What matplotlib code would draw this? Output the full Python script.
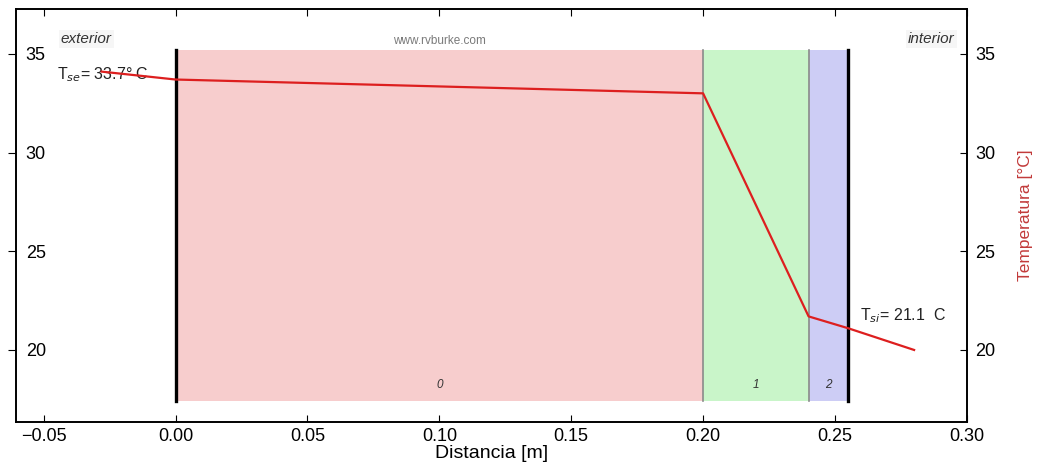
import numpy as np
import matplotlib.pyplot as plt

plt.rcParams['font.family'] = ['Liberation Sans', 'DejaVu Sans']

# capas del muro: limites [m] y colores
capa_ini = [0.00, 0.20, 0.24]
capa_fin = [0.20, 0.24, 0.255]
capa_nom = ['0', '1', '2']
capa_col = ['#f7cdcd', '#c9f5c9', '#cdcdf5']

# perfil de temperatura
dist = [-0.028, 0.0, 0.20, 0.24, 0.255, 0.28]
temp = [34.1, 33.7, 33.0, 21.7, 21.1, 20.0]

T_se = 33.7
T_si = 21.1

y_lo, y_hi = 17.4, 35.2

fig = plt.figure(figsize=(10.43, 4.66), dpi=100)
ax = fig.add_axes([0.0153, 0.0944, 0.9117, 0.8866])

for x0, x1, nom, col in zip(capa_ini, capa_fin, capa_nom, capa_col):
    ax.fill_between([x0, x1], y_lo, y_hi, color=col, lw=0, zorder=1)
    ax.text((x0 + x1) / 2, 18.2, nom, style='italic', fontsize=8.5,
            ha='center', va='center', color='#333333', zorder=3)

# separaciones entre capas
for x in capa_fin[:-1]:
    ax.plot([x, x], [y_lo, y_hi], color='#8a8a8a', lw=1.2, zorder=2)
# superficies exterior e interior
ax.plot([capa_ini[0]] * 2, [y_lo, y_hi], color='black', lw=2.4, zorder=4)
ax.plot([capa_fin[-1]] * 2, [y_lo, y_hi], color='black', lw=2.4, zorder=4)

ax.plot(dist, temp, color='#dd1f1f', lw=1.6, zorder=5)

ax.text(-0.045, 33.95, 'T$_{se}$= %.1f° C' % T_se, fontsize=11.5,
        ha='left', va='center', color='#222222', zorder=4)
ax.text(0.2595, 21.75, 'T$_{si}$= %.1f  C' % T_si, fontsize=11.5,
        ha='left', va='center', color='#222222', zorder=4)

ax.text(-0.0435, 35.75, 'exterior', style='italic', fontsize=11,
        ha='left', va='center', color='#333333',
        bbox=dict(fc='#f6f6f6', ec='none', pad=1.5))
ax.text(0.2955, 35.75, 'interior', style='italic', fontsize=11,
        ha='right', va='center', color='#333333',
        bbox=dict(fc='#f6f6f6', ec='none', pad=1.5))
ax.text(0.1, 35.65, 'www.rvburke.com', fontsize=8.5, ha='center',
        va='center', color='#7a7a7a')

ax.set_xlim(-0.0605, 0.2995)
ax.set_ylim(16.35, 37.28)
ax.set_xticks(np.arange(-0.05, 0.301, 0.05))
ax.set_xticklabels(['%.2f' % v if v >= -1e-9 else '\u22120.05'
                    for v in np.arange(-0.05, 0.301, 0.05)])
ax.set_yticks([20, 25, 30, 35])
ax.tick_params(axis='x', direction='in', top=True, length=5, labelsize=13,
               pad=4)
ax.tick_params(axis='y', direction='out', length=6, labelsize=13,
               pad=-13)
for lab in ax.get_yticklabels():
    lab.set_horizontalalignment('left')
ax.set_xlabel('Distancia [m]', fontsize=14, labelpad=0)

ax2 = ax.twinx()
ax2.set_ylim(ax.get_ylim())
ax2.set_yticks([20, 25, 30, 35])
ax2.tick_params(axis='y', direction='in', length=5, labelsize=13, pad=6)
ax2.set_ylabel('Temperatura [°C]', color='#c23a3a', fontsize=12.5,
               labelpad=16)

for a in (ax, ax2):
    for s in a.spines.values():
        s.set_linewidth(1.2)

fig.savefig('out.png', dpi=100)
